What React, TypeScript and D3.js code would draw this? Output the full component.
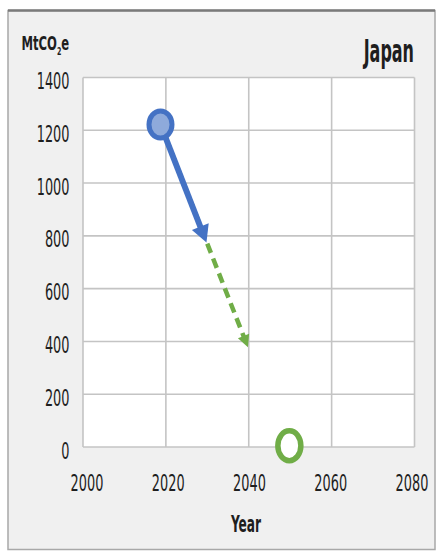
import React from "react";
import * as d3 from "d3";

const xTicks = [2000, 2020, 2040, 2060, 2080];
const yTicks = [0, 200, 400, 600, 800, 1000, 1200, 1400];
const currentPoint = { year: 2018.7, value: 1222 };
const policyPath = [
  { year: 2018.7, value: 1222 },
  { year: 2029.8, value: 775 },
];
const targetPath = [
  { year: 2018.7, value: 1222 },
  { year: 2039.8, value: 378 },
];
const netZeroPoint = { year: 2049.8, value: 5 };
const title = "Japan";
const xLabel = "Year";

const W = 436;
const H = 551;
const left = 83;
const right = 414.5;
const top = 77.5;
const bottom = 447;
const font = "'DejaVu Sans', sans-serif";

type P = { year: number; value: number };

function T({ x, y, sx, size, anchor = "start", weight = "normal", children }: any) {
  return (
    <g transform={`translate(${x},${y}) scale(${sx},1)`}>
      <text fontSize={size} textAnchor={anchor} fontWeight={weight} fill="#1e1e1e">
        {children}
      </text>
    </g>
  );
}

function Arrow({ pts, x, y, color, width, headLen, headW, dash }: any) {
  const p0 = [x(pts[0].year), y(pts[0].value)];
  const p1 = [x(pts[1].year), y(pts[1].value)];
  const dx = p1[0] - p0[0];
  const dy = p1[1] - p0[1];
  const len = Math.hypot(dx, dy);
  const ux = dx / len;
  const uy = dy / len;
  const bx = p1[0] - ux * headLen;
  const by = p1[1] - uy * headLen;
  const px = -uy;
  const py = ux;
  const line = d3.line<number[]>();
  const shaft = line([p0, [bx + ux * 2, by + uy * 2]]) || "";
  const head = [
    [p1[0], p1[1]],
    [bx + px * headW / 2, by + py * headW / 2],
    [bx - px * headW / 2, by - py * headW / 2],
  ];
  return (
    <g>
      <path d={shaft} fill="none" stroke={color} strokeWidth={width} strokeDasharray={dash} />
      <path d={(line(head as any) || "") + "Z"} fill={color} />
    </g>
  );
}

export default function App() {
  const x = d3.scaleLinear().domain([2000, 2080]).range([left, right]);
  const y = d3.scaleLinear().domain([0, 1400]).range([bottom, top]);
  const xl = d3.scaleLinear().domain([2000, 2080]).range([87, 412]);

  return (
    <svg width={W} height={H} style={{ position: "absolute", left: 0, top: 0 }} fontFamily={font}>
      <rect x={8} y={10.5} width={427} height={539} fill="#f0f0f0" stroke="#a8a8a8" strokeWidth={1.5} />
      <line x1={8} x2={435} y1={10.5} y2={10.5} stroke="#7a7a7a" strokeWidth={2.5} />
      <rect x={left} y={top} width={right - left} height={bottom - top} fill="#ffffff" />
      {xTicks.map((t) => (
        <line key={"gx" + t} x1={x(t)} x2={x(t)} y1={top} y2={bottom} stroke="#c4c4c4" strokeWidth={1.6} />
      ))}
      {yTicks.map((t) => (
        <line key={"gy" + t} x1={left} x2={right} y1={y(t)} y2={y(t)} stroke="#c4c4c4" strokeWidth={1.6} />
      ))}
      {yTicks.map((t) => (
        <T key={"ty" + t} x={69.5} y={y(t) + 11.5} sx={0.56} size={23} anchor="end">
          {t}
        </T>
      ))}
      {xTicks.map((t) => (
        <T key={"tx" + t} x={xl(t)} y={490.5} sx={0.56} size={23} anchor="middle">
          {t}
        </T>
      ))}
      <T x={246} y={532} sx={0.53} size={23} anchor="middle" weight="bold">
        {xLabel}
      </T>
      <T x={21.5} y={50} sx={0.58} size={20} weight="bold">
        MtCO<tspan fontSize={11} dy={5}>2</tspan>
        <tspan dy={-5}>e</tspan>
      </T>
      <T x={414} y={62} sx={0.5} size={32} anchor="end" weight="bold">
        {title}
      </T>
      <Arrow pts={targetPath as P[]} x={x} y={y} color="#70ad47" width={4.5} headLen={12} headW={12} dash="10 6" />
      <Arrow pts={policyPath as P[]} x={x} y={y} color="#4472c4" width={6} headLen={17} headW={18} />
      <ellipse cx={x(currentPoint.year)} cy={y(currentPoint.value)} rx={11.5} ry={13.5} fill="#8eaadb" stroke="#4472c4" strokeWidth={5} />
      <ellipse cx={x(netZeroPoint.year)} cy={y(netZeroPoint.value)} rx={11.5} ry={15} fill="#ffffff" stroke="#70ad47" strokeWidth={5.5} />
    </svg>
  );
}
